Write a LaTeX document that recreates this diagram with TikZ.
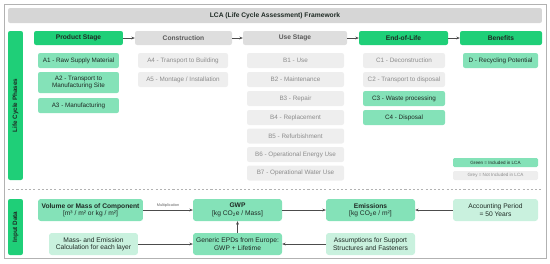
\documentclass[tikz,border=0pt]{standalone}
\usepackage{fontspec}
\setmainfont{Liberation Sans}
\usepackage{tikz}
\usetikzlibrary{arrows.meta, positioning}
\definecolor{verde}{HTML}{1FCF78}
\definecolor{verdemedio}{HTML}{84E2B8}
\definecolor{verdeclaro}{HTML}{C9F1DE}
\definecolor{grisoscuro}{HTML}{D6D6D6}
\definecolor{gris}{HTML}{DEDEDE}
\definecolor{grisclaro}{HTML}{EEEEEE}
\definecolor{textogris}{HTML}{8C8C8C}
\definecolor{tinta}{HTML}{1E2A24}
\tikzset{
  every picture/.style={font=\fontsize{9}{10.5}\selectfont, >=Stealth},
  titulo/.style={fill=grisoscuro, rounded corners=3pt, text=tinta,
              minimum width=26.7cm, minimum height=0.75cm, font=\fontsize{9.5}{11}\selectfont\bfseries},
  lateral/.style={fill=verde, rounded corners=3pt, text=tinta, rotate=90,
              minimum height=0.75cm, font=\fontsize{9}{11}\selectfont\bfseries},
  etapa/.style={fill=verde, rounded corners=3pt, text=tinta, inner sep=1pt,
              minimum height=0.7cm, font=\fontsize{9.5}{11}\selectfont\bfseries},
  etapag/.style={etapa, fill=gris, text=black!65},
  sub/.style={fill=verdemedio, rounded corners=3pt, text=tinta, inner sep=1pt,
              minimum height=0.75cm, align=center},
  subg/.style={sub, fill=grisclaro, text=textogris},
  dato/.style={fill=verdemedio, rounded corners=4pt, text=tinta, inner sep=1pt,
              minimum width=4.45cm, minimum height=1.1cm, align=center,
              font=\fontsize{9.5}{10.5}\selectfont},
  datoc/.style={dato, fill=verdeclaro},
  leyenda/.style={rounded corners=2pt, inner sep=1pt, minimum width=4.25cm,
              minimum height=0.45cm, font=\fontsize{6.5}{7}\selectfont},
  flecha/.style={-{Stealth[length=5pt, width=4pt]}, thick, black!70},
}
\begin{document}
\begin{tikzpicture}[x=0.05cm, y=-0.05cm]
  \useasboundingbox (0,0) rectangle (550,263);
  \draw[black!30, line width=1pt] (4,4) rectangle (546,258);
  \node[titulo] (T) at (275,15.5) {LCA (Life Cycle Assessment) Framework};
  \node[lateral, minimum width=7.45cm] (LCP) at (15.5,105.5) {Life Cycle Phases};
  \node[lateral, minimum width=2.8cm] (ID) at (15.5,227) {Input Data};

  % etapas
  \node[etapa, minimum width=4.45cm] (PS) at (78.5,38) {Product Stage};
  \node[etapag, minimum width=4.85cm] (CO) at (183.5,38) {Construction};
  \node[etapag, minimum width=5.2cm] (US) at (295,38) {Use Stage};
  \node[etapa, minimum width=4.45cm] (EL) at (403.5,38) {End-of-Life};
  \node[etapa, minimum width=4.1cm] (BE) at (501,38) {Benefits};
  \draw[flecha] (PS) -- (CO); \draw[flecha] (CO) -- (US);
  \draw[flecha] (US) -- (EL); \draw[flecha] (EL) -- (BE);

  % modulos
  \node[sub, minimum width=4.05cm] (A1) at (78.5,60.5) {A1 - Raw Supply Material};
  \node[sub, minimum width=4.05cm, minimum height=1.05cm] (A2) at (78.5,82.5) {A2 - Transport to\\Manufacturing Site};
  \node[sub, minimum width=4.05cm] (A3) at (78.5,105.5) {A3 - Manufacturing};
  \node[subg, minimum width=4.5cm] (A4) at (183,60.5) {A4 - Transport to Building};
  \node[subg, minimum width=4.5cm] (A5) at (183,79.5) {A5 - Montage / Installation};
  \node[subg, minimum width=4.85cm] (B1) at (295.5,60.5) {B1 - Use};
  \node[subg, minimum width=4.85cm] (B2) at (295.5,79.5) {B2 - Maintenance};
  \node[subg, minimum width=4.85cm] (B3) at (295.5,98.5) {B3 - Repair};
  \node[subg, minimum width=4.85cm] (B4) at (295.5,117.5) {B4 - Replacement};
  \node[subg, minimum width=4.85cm] (B5) at (295.5,136) {B5 - Refurbishment};
  \node[subg, minimum width=4.85cm] (B6) at (295.5,154.5) {B6 - Operational Energy Use};
  \node[subg, minimum width=4.85cm] (B7) at (295.5,173) {B7 - Operational Water Use};
  \node[subg, minimum width=4.1cm] (C1) at (404,60.5) {C1 - Deconstruction};
  \node[subg, minimum width=4.1cm] (C2) at (404,79.5) {C2 - Transport to disposal};
  \node[sub, minimum width=4.1cm] (C3) at (404,98.5) {C3 - Waste processing};
  \node[sub, minimum width=4.1cm] (C4) at (404,117.5) {C4 - Disposal};
  \node[sub, minimum width=3.75cm] (D) at (500.5,60.5) {D - Recycling Potential};

  % leyenda
  \node[leyenda, fill=verdemedio, text=tinta] (LV) at (495.5,162.5) {Green = Included in LCA};
  \node[leyenda, fill=grisclaro, text=textogris] (LG) at (495.5,175.5) {Grey = Not Included in LCA};

  \draw[black!30, dashed, thick] (8,189) -- (542,189);

  % datos de entrada
  \node[dato, minimum width=5.25cm] (VM) at (90.5,210) {\textbf{Volume or Mass of Component}\\{}[m³ / m² or kg / m²]};
  \node[dato] (GWP) at (237.5,210) {\textbf{GWP}\\{}[kg CO\textsubscript{2}e / Mass]};
  \node[dato] (EM) at (370.5,210) {\textbf{Emissions}\\{}[kg CO\textsubscript{2}e / m²]};
  \node[datoc, minimum width=4.25cm] (AP) at (495.5,210) {Accounting Period\\= 50 Years};
  \node[datoc] (MEC) at (93.5,244) {Mass- and Emission\\Calculation for each layer};
  \node[dato] (EPD) at (237.5,244) {Generic EPDs from Europe:\\GWP + Lifetime};
  \node[datoc] (AS) at (370.5,244) {Assumptions for Support\\Structures and Fasteners};
  \draw[flecha] (VM) -- node[above, font=\fontsize{5.5}{6}\selectfont, text=black!60] {Multiplication} (GWP);
  \draw[flecha] (GWP) -- (EM); \draw[flecha] (AP) -- (EM);
  \draw[flecha] (MEC) -- (EPD); \draw[flecha] (AS) -- (EPD);
  \draw[flecha] (EPD) -- (GWP);
\end{tikzpicture}
\end{document}
